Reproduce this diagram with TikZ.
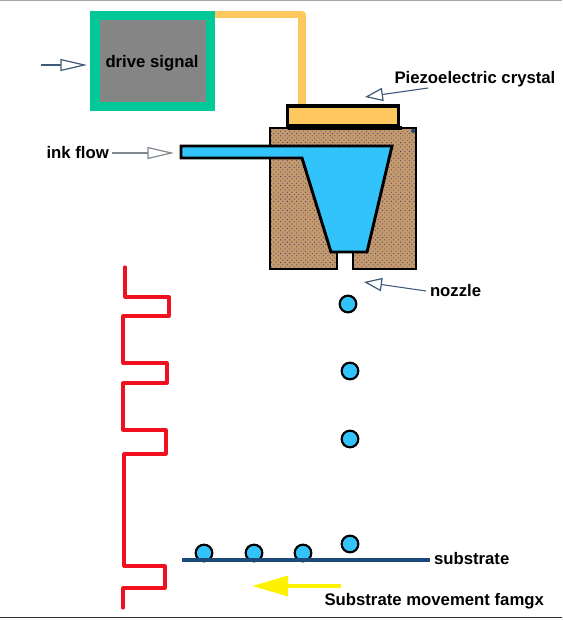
\documentclass[tikz,border=0pt]{standalone}
\usepackage{fontspec}
\setmainfont{Liberation Sans}
\usetikzlibrary{arrows.meta,patterns.meta,calc}
\definecolor{greenb}{HTML}{00C896}
\definecolor{grayb}{HTML}{858585}
\definecolor{wireor}{HTML}{FFC85F}
\definecolor{brownb}{HTML}{C49A6C}
\definecolor{inkb}{HTML}{33C3FB}
\definecolor{navyb}{HTML}{1B4A78}
\definecolor{arrowb}{HTML}{3F5A78}
\definecolor{arrowg}{HTML}{808890}
\definecolor{redb}{HTML}{F01020}
\tikzset{
  x=0.75pt,y=-0.75pt,
  label text/.style={font=\bfseries\fontsize{12.55pt}{14pt}\selectfont,text=black,inner sep=0pt,outer sep=0pt,anchor=west},
  open arrow/.style={line width=0.8pt,draw=#1,-{Triangle[open,length=20pt,width=9pt,line width=0.9pt]}},
  short arrow/.style={line width=0.8pt,draw=#1,-{Triangle[open,length=13.5pt,width=10pt,line width=0.9pt]}},
  droplet/.style={circle,draw=black,line width=1.6pt,fill=inkb,minimum size=12.5pt,inner sep=0pt},
  heavy/.style={draw=black,line width=2.2pt,line join=miter},
  redline/.style={draw=redb,line width=2.3pt,line join=round,line cap=round},
}
\begin{document}
\begin{tikzpicture}
\useasboundingbox (0,0) rectangle (562,620);
\fill[white] (0,0) rectangle (562,620);
\draw[gray!70,line width=0.8pt] (0,0.5) -- (562,0.5);
\draw[black!80,line width=1pt] (0,617.5) -- (562,617.5);
% wire and drive box
\coordinate (wirestart) at (212,14.5);
\coordinate (wireend) at (302,106);
\draw[wireor,line width=5.3pt,line join=round] (wirestart) -| (wireend);
\node[draw=greenb,fill=grayb,line width=7pt,minimum width=86.5pt,minimum height=68pt,inner sep=0pt,outer sep=0pt] (drive) at (152.5,61) {};
\node[label text,anchor=center] (drivetext) at (152,63) {drive signal};
% print head block
\filldraw[draw=black,line width=1.6pt,fill=brownb] (270,128) -- (416,128) -- (416,269) -- (353,269) -- (353,252) -- (337,252) -- (337,269) -- (270,269) -- cycle;
\path[pattern={Dots[distance=2.4pt,radius=0.42pt,angle=45]},pattern color=navyb!75!violet] (271,129) -- (415,129) -- (415,268) -- (354,268) -- (354,251) -- (336,251) -- (336,268) -- (271,268) -- cycle;
\fill[navyb] (413,131) circle (1.5pt);
% crystal
\node[draw=black,fill=wireor,line width=2.6pt,minimum width=83pt,minimum height=15pt,inner sep=0pt,outer sep=0pt] (crystal) at (343,116) {};
\draw[black,line width=2.6pt] (crystal.south west) ++(0,2) -- ++(114,0);
% ink chamber
\path[fill=inkb,heavy] (181,146) -- (392,146) -- (367,252) -- (331,252) -- (302,158) -- (181,158) -- cycle;
% labels
\node[label text] (ink) at (46.5,153) {ink flow};
\node[label text] (piezo) at (394.5,79) {Piezoelectric crystal};
\node[label text] (nozzle) at (430,291) {nozzle};
\node[label text] (substrate) at (434,559) {substrate};
\node[label text] (move) at (324.5,601) {Substrate movement famgx};
% hollow arrows
\coordinate (sigtail) at (41,65);
\coordinate (sigtip) at (87,65);
\coordinate (inktip) at (174,153);
\coordinate (piezotail) at (428,88);
\coordinate (piezotip) at (365,97);
\coordinate (nozzletip) at (364,282);
\draw[open arrow=arrowb] (sigtail) -- (sigtip);
\draw[open arrow=arrowg] ($(ink.east)+(3,0)$) -- (inktip);
\draw[short arrow=arrowb] (piezotail) -- (piezotip);
\draw[short arrow=arrowb] ($(nozzle.west)+(-4,0)$) -- (nozzletip);
% droplets
\node[droplet] (d1) at (348,304) {};
\node[droplet] (d2) at (350,371) {};
\node[droplet] (d3) at (350,439) {};
\node[droplet] (d4) at (350,544) {};
\node[droplet] (s1) at (204,553) {};
\node[droplet] (s2) at (254,553) {};
\node[droplet] (s3) at (303,553) {};
% substrate
\coordinate (subleft) at (182,560);
\coordinate (subright) at (430,560);
\draw[navyb,line width=3pt] (subleft) -- (subright);
% yellow arrow
\coordinate (ytail) at (341,586);
\coordinate (ytip) at (252,586);
\draw[yellow,line width=2.6pt,-{Triangle[length=27pt,width=15pt,fill=yellow]}] (ytail) -- (ytip);
% red waveform
\draw[redline] (125,267) -- (125,297) -- (169,297) -- (169,316) -- (123,316) -- (123,363) -- (167,363) -- (167,383) -- (123,383) -- (123,430) -- (166,430) -- (166,454) -- (124,454) -- (124,566) -- (165,566) -- (165,588) -- (123,588) -- (123,608);
\end{tikzpicture}
\end{document}
